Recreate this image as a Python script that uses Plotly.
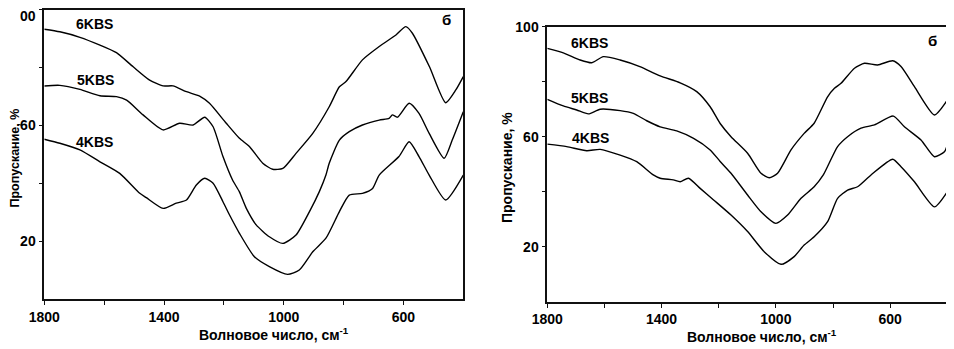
import plotly.graph_objects as go

# page body has an 8px default margin; figure is sized to fill the rest of the window
OFF = 8
W, H = 954 - OFF, 349 - OFF

# ---------------- data (left panel) ----------------
L6_x = [1800,1748,1681,1614,1559,1503,1448,1403,1370,1325,1281,1248,1192,1148,1114,1070,1037,1003,959,903,848,814,792,737,681,625,592,570,513,459,425,400]
L6_y = [93.2,92.3,90.4,87.7,85.1,80.2,75.6,73.6,73.6,71.6,70.1,67.6,60.7,55.5,52.6,46.9,44.8,45.1,50.3,57.2,66.4,73.3,75.1,82.6,87.2,91.2,94.1,91.8,80.2,67.8,72.2,76.8]

L5_x = [1800,1748,1681,1614,1559,1525,1470,1403,1348,1303,1264,1236,1203,1171,1148,1125,1092,1048,1003,959,914,881,859,848,814,781,737,681,648,637,620,581,548,514,464,437,400]
L5_y = [73.6,73.8,72.4,70.2,69.9,68.7,63.6,58.4,60.7,60.1,62.8,59.5,49.2,41.1,37.0,31.3,25.6,21.5,19.2,22.1,30.2,37.1,42.8,46.9,54.9,57.8,60.1,61.8,62.4,63.6,62.8,67.6,64.1,57.2,48.6,54.9,64.7]

L4_x = [1800,1748,1681,1614,1548,1481,1459,1403,1359,1325,1292,1264,1236,1203,1181,1148,1098,1048,987,948,903,859,814,781,737,703,681,615,581,548,514,459,400]
L4_y = [55.2,53.8,51.5,47.4,43.4,36.5,35.0,31.3,33.1,34.2,39.4,41.7,40.0,33.6,29.0,22.7,14.6,11.2,8.5,10.0,16.3,21.0,30.2,35.9,36.5,38.2,42.8,49.2,54.3,49.2,42.8,34.2,42.8]

# ---------------- data (right panel) ----------------
R6_x = [1800,1744,1685,1644,1604,1545,1476,1405,1335,1277,1230,1195,1157,1099,1052,1023,994,947,901,866,819,795,772,725,690,644,591,562,515,445,400]
R6_y = [92.1,90.5,87.9,86.9,89.1,87.9,85.5,82.1,79.6,76.4,70.9,64.8,60.0,54.0,46.7,45.1,46.7,55.2,61.2,64.9,74.5,77.6,79.4,84.9,86.7,86.1,87.6,85.5,78.2,67.9,73.3]

R5_x = [1800,1744,1697,1656,1615,1545,1499,1452,1405,1347,1288,1230,1195,1157,1099,1052,1000,959,912,866,834,784,749,702,655,589,550,492,445,410,400]
R5_y = [73.6,71.2,69.7,68.3,70.0,69.5,68.5,65.8,63.6,62.1,59.4,55.2,51.0,46.7,38.8,32.7,28.5,31.5,37.6,41.8,46.1,56.4,60.0,63.1,64.3,67.5,63.6,58.8,52.7,54.5,57.0]

R4_x = [1800,1732,1662,1615,1545,1487,1429,1405,1359,1335,1306,1265,1218,1157,1099,1041,982,936,901,866,819,784,749,714,667,591,562,515,445,400]
R4_y = [57.3,56.4,54.9,55.4,53.3,50.9,46.1,44.9,44.3,43.6,44.9,41.2,37.0,31.5,25.5,18.2,13.6,16.4,20.6,23.6,29.1,37.6,40.6,41.8,46.1,51.8,49.1,43.6,34.5,40.0]

labels = ["6KBS", "5KBS", "4KBS"]
x_tickvals = [1800, 1600, 1400, 1200, 1000, 800, 600]
x_ticktext = ["1800", "", "1400", "", "1000", "", "600"]
y_tickvals = [20, 40, 60, 80, 100]
yL_ticktext = ["20", "", "60", "", ""]
yL_top_label = "00"          # the (cropped) top tick label of the left panel
yR_ticktext = ["20", "", "60", "", "100"]
x_title = "Волновое число, см<sup>-1</sup>"
y_title = "Пропускание, %"
panel_tag = "б"

# ---------------- helpers (window pixel -> paper) ----------------
def px(x):
    return (x - OFF) / W

def py(y):
    return 1 - (y - OFF) / H

FONT = "Arial, Liberation Sans, sans-serif"

fig = go.Figure()
line = dict(color="black", width=1.4, shape="spline", smoothing=0.6)
for xs, ys in [(L6_x, L6_y), (L5_x, L5_y), (L4_x, L4_y)]:
    fig.add_trace(go.Scatter(x=xs, y=ys, mode="lines", line=line, xaxis="x", yaxis="y",
                             showlegend=False, hoverinfo="skip"))
for xs, ys in [(R6_x, R6_y), (R5_x, R5_y), (R4_x, R4_y)]:
    fig.add_trace(go.Scatter(x=xs, y=ys, mode="lines", line=line, xaxis="x2", yaxis="y2",
                             showlegend=False, hoverinfo="skip"))

tickfont = dict(family=FONT, size=14, color="black", weight="bold")
axis_common = dict(showline=True, linecolor="#111", linewidth=1.6, mirror=True,
                   ticks="outside", ticklen=4, tickwidth=1, tickcolor="#111",
                   showgrid=False, zeroline=False, tickfont=tickfont,
                   automargin=False)

fig.update_layout(
    width=W, height=H, margin=dict(l=0, r=0, t=0, b=0, autoexpand=False),
    paper_bgcolor="white", plot_bgcolor="white",
    xaxis=dict(domain=[px(44.3), px(463.3)], anchor="y", range=[1800, 400],
               tickvals=x_tickvals, ticktext=x_ticktext, **axis_common),
    yaxis=dict(domain=[py(299), py(9.5)], anchor="x", range=[0, 100],
               tickvals=y_tickvals, ticktext=yL_ticktext, **axis_common),
    xaxis2=dict(domain=[px(547.3), px(947.3)], anchor="y2", range=[1800, 400],
                tickvals=x_tickvals, ticktext=x_ticktext, **axis_common),
    yaxis2=dict(domain=[py(301.7), py(26.7)], anchor="x2", range=[0, 100],
                tickvals=y_tickvals, ticktext=yR_ticktext, **axis_common),
)

afont = dict(family=FONT, size=14, color="black", weight="bold")
ann = []
def add(text, x, y, angle=0, size=14, xanchor="center"):
    f = dict(afont)
    f["size"] = size
    ann.append(dict(text=text, x=px(x), y=py(y), xref="paper", yref="paper",
                    showarrow=False, xanchor=xanchor, yanchor="middle",
                    textangle=angle, font=f))

# left panel labels
add(labels[0], 94.5, 24)
add(labels[1], 95, 80)
add(labels[2], 94, 142)
add(panel_tag, 446, 20, size=15)
add(yL_top_label, 37.5, 16, xanchor="right")
add(x_title, 274, 334)
add(y_title, 14.5, 158, angle=-90, size=12.5)
# right panel labels
add(labels[0], 589, 42.7)
add(labels[1], 589, 97.7)
add(labels[2], 590, 137.7)
add(panel_tag, 932, 40.7, size=15)
add(x_title, 762, 335.5)
add(y_title, 507, 168, angle=-90)

fig.update_layout(annotations=ann)
fig.write_html("out.html")
